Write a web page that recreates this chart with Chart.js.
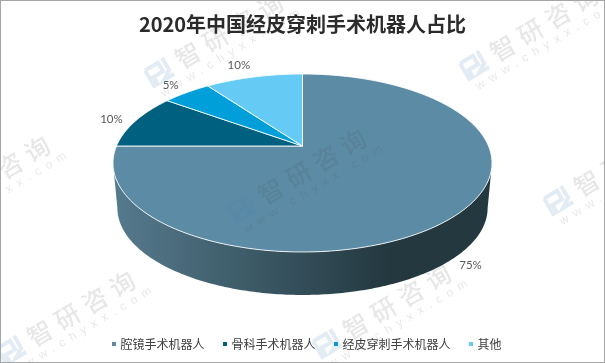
<!DOCTYPE html>
<html>
<head>
<meta charset="utf-8">
<style>
  html, body { margin: 0; padding: 0; background: #fff; }
  #wrap { position: relative; width: 605px; height: 363px; }
</style>
<script src="https://cdn.jsdelivr.net/npm/chart.js@4"></script>
</head>
<body>
<div id="wrap"><canvas id="chart" width="605" height="363"></canvas></div>
<script>
// 2020 China percutaneous puncture robot share
const categories = ['腔镜手术机器人', '骨科手术机器人', '经皮穿刺手术机器人', '其他'];
const shares = [75, 10, 5, 10];
const sliceColors = ['#5c8ca5', '#00607f', '#009fd9', '#66cbf4'];
const shareLabels = ['75%', '10%', '5%', '10%'];
// label offset from the rim point of its slice
const labelNudges = [[16, 4], [-24, -2], [-16, -7], [-15, -12]];
// logo spots of the repeated watermark
const markSpots = [[160, 72], [475, 65], [243, 208], [559, 200], [-73, 215], [12, 350], [328, 343], [644, 336]];

const CJK = '"Noto Sans CJK SC", "Noto Sans", sans-serif';

// circle seen in perspective: unit (u, v) to the page
function project(o, u, v, lower) {
  const s = lower ? o.lowerScale : 1;
  const d = 1 + o.tilt * v;
  return {
    x: o.cx + o.rx * s * u / d,
    y: o.cy + (lower ? o.depth : 0) - o.ry * s * v / d
  };
}

function drawWall(ctx, o) {
  // angles run clockwise on screen, so the front goes from right tangent to left tangent
  const tan = Math.asin(o.tilt);
  const grad = ctx.createLinearGradient(o.cx - o.rx, 0, o.cx + o.rx * 0.47, 0);
  grad.addColorStop(0, '#557a8d');
  grad.addColorStop(1, '#23383f');
  ctx.beginPath();
  for (let i = 0; i <= 200; i++) {
    const a = tan + (Math.PI - 2 * tan) * i / 200;
    const p = project(o, Math.cos(a), -Math.sin(a), false);
    i ? ctx.lineTo(p.x, p.y) : ctx.moveTo(p.x, p.y);
  }
  for (let i = 200; i >= 0; i--) {
    const a = tan + (Math.PI - 2 * tan) * i / 200;
    const p = project(o, Math.cos(a), -Math.sin(a), true);
    ctx.lineTo(p.x, p.y);
  }
  ctx.closePath();
  ctx.fillStyle = grad;
  ctx.fill();
}

function drawSlice(ctx, o, arc, color) {
  const center = project(o, 0, 0, false);
  const steps = Math.max(4, Math.ceil((arc.endAngle - arc.startAngle) * 60));
  ctx.beginPath();
  ctx.moveTo(center.x, center.y);
  for (let i = 0; i <= steps; i++) {
    const a = arc.startAngle + (arc.endAngle - arc.startAngle) * i / steps;
    const p = project(o, Math.cos(a), -Math.sin(a), false);
    ctx.lineTo(p.x, p.y);
  }
  ctx.closePath();
  ctx.fillStyle = color;
  ctx.fill();
  ctx.lineWidth = 1;
  ctx.lineJoin = 'round';
  ctx.strokeStyle = 'rgba(255,255,255,0.85)';
  ctx.stroke();
}

function drawWatermark(ctx, x, y) {
  ctx.save();
  ctx.translate(x, y);
  ctx.rotate(-31 * Math.PI / 180);
  // logo
  ctx.strokeStyle = 'rgba(70,125,190,0.15)';
  ctx.lineWidth = 4;
  ctx.beginPath();
  ctx.moveTo(-12, -9); ctx.lineTo(3, -9); ctx.lineTo(3, 1); ctx.lineTo(-8, 1); ctx.lineTo(-8, 11);
  ctx.moveTo(-12, -9); ctx.lineTo(-12, 11);
  ctx.moveTo(9, -11); ctx.lineTo(9, 3); ctx.lineTo(-1, 9); ctx.lineTo(11, 9);
  ctx.stroke();
  // name and site
  ctx.fillStyle = 'rgba(70,70,80,0.13)';
  ctx.textBaseline = 'middle';
  ctx.textAlign = 'left';
  ctx.font = '500 25px ' + CJK;
  ctx.letterSpacing = '7px';
  ctx.fillText('智研咨询', 20, 0);
  ctx.font = '12px "Liberation Sans", sans-serif';
  ctx.letterSpacing = '6.2px';
  ctx.fillText('www.chyxx.com', -10, 20);
  ctx.restore();
}

const pie3d = {
  id: 'pie3d',
  afterLayout(chart, args, opts) {
    // legend block sits a little right of the pie in the reference
    chart.legend.left += opts.legendShift;
    chart.legend.right += opts.legendShift;
  },
  beforeDatasetDraw(chart, args, opts) {
    const ctx = chart.ctx;
    const arcs = chart.getDatasetMeta(args.index).data;
    const o = {
      cx: arcs[0].x,
      cy: opts.centerY,
      rx: arcs[0].outerRadius,
      ry: arcs[0].outerRadius * opts.squash,
      tilt: opts.tilt,
      depth: opts.depth,
      lowerScale: opts.lowerScale
    };
    ctx.save();
    drawWall(ctx, o);
    arcs.forEach((arc, i) => drawSlice(ctx, o, arc, sliceColors[i]));
    // value labels sit outside the rim; lower ones clear the wall
    ctx.font = '11.5px Lato, sans-serif';
    ctx.fillStyle = '#595959';
    ctx.textAlign = 'center';
    ctx.textBaseline = 'middle';
    arcs.forEach((arc, i) => {
      const mid = (arc.startAngle + arc.endAngle) / 2;
      const u = Math.cos(mid), v = -Math.sin(mid);
      const p = project(o, u, v, false);
      const drop = v < 0 ? o.depth : 0;
      ctx.fillText(shareLabels[i], p.x + labelNudges[i][0], p.y + drop + labelNudges[i][1]);
    });
    ctx.restore();
    return false;
  },
  afterDraw(chart) {
    const ctx = chart.ctx;
    markSpots.forEach(s => drawWatermark(ctx, s[0], s[1]));
    ctx.save();
    ctx.strokeStyle = '#a6a6a6';
    ctx.lineWidth = 1;
    ctx.strokeRect(0.5, 0.5, chart.width - 1, chart.height - 1);
    ctx.restore();
  }
};

new Chart(document.getElementById('chart').getContext('2d'), {
  type: 'pie',
  data: {
    labels: categories,
    datasets: [{
      data: shares,
      backgroundColor: sliceColors,
      borderWidth: 0
    }]
  },
  options: {
    responsive: false,
    animation: false,
    radius: 186,
    layout: { padding: { bottom: 3 } },
    plugins: {
      pie3d: { centerY: 146, squash: 0.461, tilt: 0.191, depth: 45.4, lowerScale: 0.977, legendShift: 5 },
      tooltip: { enabled: false },
      title: {
        display: true,
        text: '2020年中国经皮穿刺手术机器人占比',
        color: '#2b2b2b',
        font: { family: CJK, size: 20, weight: 'bold' },
        padding: { top: 12, bottom: 0 }
      },
      legend: {
        position: 'bottom',
        labels: {
          usePointStyle: true,
          pointStyle: 'rect',
          boxWidth: 1,
          boxHeight: 4,
          padding: 20,
          color: '#404040',
          font: { family: CJK, size: 12 }
        }
      }
    }
  },
  plugins: [pie3d]
});
</script>
</body>
</html>
